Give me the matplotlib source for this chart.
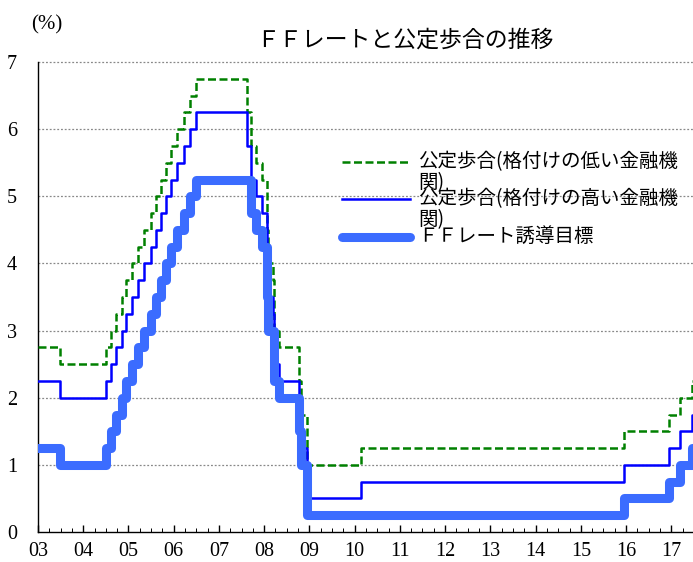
import matplotlib
matplotlib.use("Agg")
import matplotlib.pyplot as plt
from matplotlib.lines import Line2D
from matplotlib.ticker import MultipleLocator
import pandas as pd

# ---------------- data ----------------
ff_dates = ["2003-01-01", "2003-06-25", "2004-06-30", "2004-08-10", "2004-09-21",
            "2004-11-10", "2004-12-14", "2005-02-02", "2005-03-22", "2005-05-03",
            "2005-06-30", "2005-08-09", "2005-09-20", "2005-11-01", "2005-12-13",
            "2006-01-31", "2006-03-28", "2006-05-10", "2006-06-29", "2007-09-18",
            "2007-10-31", "2007-12-11", "2008-01-22", "2008-01-30", "2008-03-18",
            "2008-04-30", "2008-10-08", "2008-10-29", "2008-12-16", "2015-12-16",
            "2016-12-14", "2017-03-15", "2017-06-14"]
ff_values = [1.25, 1.00, 1.25, 1.50, 1.75, 2.00, 2.25, 2.50, 2.75, 3.00,
             3.25, 3.50, 3.75, 4.00, 4.25, 4.50, 4.75, 5.00, 5.25, 4.75,
             4.50, 4.25, 3.50, 3.00, 2.25, 2.00, 1.50, 1.00, 0.25, 0.50,
             0.75, 1.00, 1.25]

disc_dates = ["2003-01-01", "2003-06-25", "2004-06-30", "2004-08-10", "2004-09-21",
              "2004-11-10", "2004-12-14", "2005-02-02", "2005-03-22", "2005-05-03",
              "2005-06-30", "2005-08-09", "2005-09-20", "2005-11-01", "2005-12-13",
              "2006-01-31", "2006-03-28", "2006-05-10", "2006-06-29", "2007-08-17",
              "2007-09-18", "2007-10-31", "2007-12-11", "2008-01-22", "2008-01-30",
              "2008-03-16", "2008-03-18", "2008-04-30", "2008-10-08", "2008-10-29",
              "2008-12-16", "2010-02-19", "2015-12-16", "2016-12-14", "2017-03-15",
              "2017-06-14"]
primary_values = [2.25, 2.00, 2.25, 2.50, 2.75, 3.00, 3.25, 3.50, 3.75, 4.00,
                  4.25, 4.50, 4.75, 5.00, 5.25, 5.50, 5.75, 6.00, 6.25, 5.75,
                  5.25, 5.00, 4.75, 4.00, 3.50, 3.25, 2.50, 2.25, 1.75, 1.25,
                  0.50, 0.75, 1.00, 1.25, 1.50, 1.75]
secondary_values = [2.75, 2.50, 2.75, 3.00, 3.25, 3.50, 3.75, 4.00, 4.25, 4.50,
                    4.75, 5.00, 5.25, 5.50, 5.75, 6.00, 6.25, 6.50, 6.75, 6.25,
                    5.75, 5.50, 5.25, 4.50, 4.00, 3.75, 3.00, 2.75, 2.25, 1.75,
                    1.00, 1.25, 1.50, 1.75, 2.00, 2.25]
end_date = "2017-07-01"

year_labels = ["03", "04", "05", "06", "07", "08", "09", "10", "11", "12",
               "13", "14", "15", "16", "17"]
label_secondary = "公定歩合(格付けの低い金融機\n関)"
label_primary = "公定歩合(格付けの高い金融機\n関)"
label_ff = "ＦＦレート誘導目標"
title = "ＦＦレートと公定歩合の推移"


def to_year(dates):
    d = pd.to_datetime(dates)
    days = pd.Series(d).dt.is_leap_year.map({True: 366.0, False: 365.0}).values
    return (d.year + (d.dayofyear - 1) / days).to_numpy()


def step_xy(dates, values):
    x = list(to_year(dates)) + list(to_year([end_date]))
    y = list(values) + [values[-1]]
    return x, y


cjk = ["Noto Sans CJK JP", "DejaVu Sans"]
serif = ["Liberation Serif", "DejaVu Serif"]

fig = plt.figure(figsize=(6.93, 5.62), dpi=100)
ax = fig.add_axes([38 / 693, 30 / 562, 655 / 693, 470 / 562])

c_green = "#008000"
c_blue = "#0000FF"
c_ff = "#3B6CFF"

x, y = step_xy(disc_dates, secondary_values)
ax.step(x, y, where="post", color=c_green, lw=1.8, dashes=(3.2, 1.4), zorder=3)
x, y = step_xy(disc_dates, primary_values)
ax.step(x, y, where="post", color=c_blue, lw=1.8, zorder=4)
x, y = step_xy(ff_dates, ff_values)
ax.step(x, y, where="post", color=c_ff, lw=6.5, solid_joinstyle="round",
        solid_capstyle="round", zorder=5)

ax.set_xlim(2003, 2017.48)
ax.set_ylim(0, 7)

for v in range(1, 8):
    ax.axhline(v, color="#888888", lw=0.9, ls=(0, (1.5, 1.5)), zorder=1, clip_on=False)

ax.spines["top"].set_visible(False)
ax.spines["right"].set_visible(False)
ax.spines["left"].set_linewidth(1.0)
ax.spines["bottom"].set_linewidth(1.0)

ax.set_xticks(list(range(2003, 2018)))
ax.set_xticklabels(year_labels, fontfamily=serif, fontsize=14.5)
ax.xaxis.set_minor_locator(MultipleLocator(0.25))
ax.tick_params(axis="x", which="major", direction="in", length=5, width=1, pad=7)
ax.tick_params(axis="x", which="minor", direction="in", length=3, width=0.7)
ax.set_yticks(range(0, 8))
ax.set_yticklabels([str(v) for v in range(0, 8)], fontfamily=serif, fontsize=14.5)
ax.tick_params(axis="y", length=0, pad=15)

fig.text(405 / 693, 1 - 40 / 562, title, family=cjk, fontsize=16.5,
         ha="center", va="center")
fig.text(47 / 693, 1 - 25 / 562, "(%)", family=serif, fontsize=15,
         ha="center", va="center")

# legend (manual, to reproduce wrapped labels)
W, H = 693.0, 562.0
entries = [
    (162, dict(color=c_green, lw=1.8, dashes=(3.2, 1.4)), label_secondary),
    (199, dict(color=c_blue, lw=1.8), label_primary),
    (237, dict(color=c_ff, lw=6.5, solid_capstyle="round"), label_ff),
]
for yy, kw, lab in entries:
    fig.add_artist(Line2D([342 / W, 410 / W], [1 - yy / H, 1 - yy / H],
                          transform=fig.transFigure, **kw))
    fig.text(418 / W, 1 - (yy - 11) / H, lab, family=cjk, fontsize=14,
             ha="left", va="top", linespacing=1.0)

fig.savefig("out.png", dpi=100)
